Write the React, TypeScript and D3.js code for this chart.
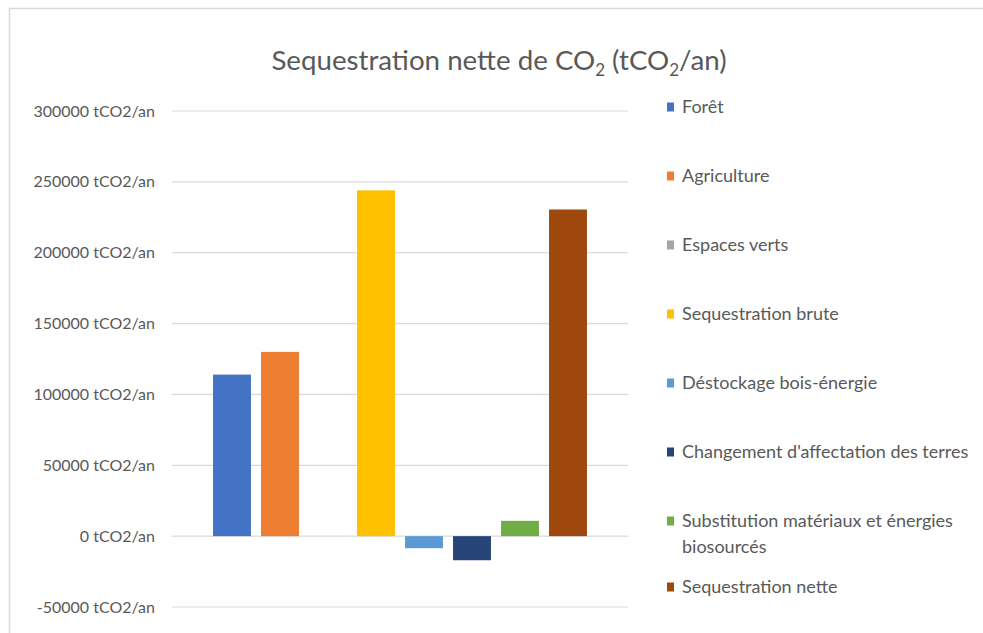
import React from "react";
import * as d3 from "d3";

const seriesNames = [
  "Forêt",
  "Agriculture",
  "Espaces verts",
  "Sequestration brute",
  "Déstockage bois-énergie",
  "Changement d'affectation des terres",
  "Substitution matériaux et énergies biosourcés",
  "Sequestration nette",
];
const legendLines = [
  ["Forêt"],
  ["Agriculture"],
  ["Espaces verts"],
  ["Sequestration brute"],
  ["Déstockage bois-énergie"],
  ["Changement d'affectation des terres"],
  ["Substitution matériaux et énergies", "biosourcés"],
  ["Sequestration nette"],
];
const seriesValues = [114000, 130000, 0, 244000, -8500, -17000, 10800, 230500];
const seriesColors = ["#4472C4", "#ED7D31", "#A5A5A5", "#FFC000", "#5B9BD5", "#264478", "#70AD47", "#9E480E"];
const yTicks = [-50000, 0, 50000, 100000, 150000, 200000, 250000, 300000];
const unitLabel = "tCO2/an";

const W = 983;
const H = 633;
const FONT = "Lato, 'Open Sans', sans-serif";
const TXT = "#595959";

export default function App() {
  const y = d3.scaleLinear().domain([-50000, 300000]).range([607, 111]);
  const x = d3.scaleBand<string>().domain(seriesNames).range([208, 592]).paddingInner(0.21).paddingOuter(0.105);
  const gridX0 = 172;
  const gridX1 = 628;

  const legendX = 667;
  const legendY0 = 107;
  const legendStep = 69;
  const lineGap = 26;

  return (
    <svg
      width={W}
      height={H}
      style={{ position: "fixed", left: 0, top: 0, background: "#fff", display: "block" }}
      fontFamily={FONT}
    >
      <rect x={0} y={0} width={W} height={H} fill="#fff" />
      <rect x={9.5} y={8.5} width={W + 20} height={H + 20} fill="none" stroke="#d9d9d9" strokeWidth={1.5} />
      <text x={499} y={70} textAnchor="middle" fontSize={27.7} fill={TXT}>
        <tspan>Sequestration nette de CO</tspan>
        <tspan fontSize={17} dy={6}>2</tspan>
        <tspan dy={-6}> (tCO</tspan>
        <tspan fontSize={17} dy={6}>2</tspan>
        <tspan dy={-6}>/an)</tspan>
      </text>
      {yTicks.map((t) => (
        <g key={t}>
          <line x1={gridX0} x2={gridX1} y1={y(t)} y2={y(t)} stroke="#d9d9d9" strokeWidth={1.2} />
          <text x={155} y={y(t)} dy="0.35em" textAnchor="end" fontSize={16} fill={TXT}>
            {`${t} ${unitLabel}`}
          </text>
        </g>
      ))}
      {seriesNames.map((s, i) => {
        const v = seriesValues[i];
        const y0 = y(Math.max(0, v));
        const y1 = y(Math.min(0, v));
        return (
          <rect key={s} x={x(s)} y={y0} width={x.bandwidth()} height={Math.max(0, y1 - y0)} fill={seriesColors[i]} />
        );
      })}
      {legendLines.map((lines, i) => {
        const extra = i === 7 ? -3 : 0;
        const cy = legendY0 + i * legendStep + extra;
        return (
          <g key={i}>
            <rect x={legendX} y={cy - 4.5} width={7} height={9} fill={seriesColors[i]} />
            {lines.map((ln, j) => (
              <text key={j} x={682} y={cy + j * lineGap} dy="0.35em" fontSize={18} fill={TXT}>
                {ln}
              </text>
            ))}
          </g>
        );
      })}
    </svg>
  );
}
